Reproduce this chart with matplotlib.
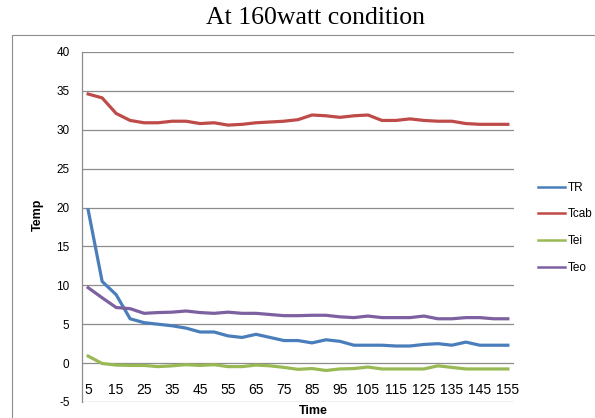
import matplotlib
matplotlib.use("Agg")
import matplotlib.pyplot as plt
from matplotlib.patches import Rectangle
from matplotlib.lines import Line2D

# data
time = list(range(5, 160, 5))
tr = [19.7, 10.5, 8.8, 5.7, 5.2, 5.0, 4.8, 4.5, 4.0, 4.0, 3.5, 3.3, 3.7, 3.3, 2.9, 2.9,
      2.6, 3.0, 2.8, 2.3, 2.3, 2.3, 2.2, 2.2, 2.4, 2.5, 2.3, 2.7, 2.3, 2.3, 2.3]
tcab = [34.6, 34.1, 32.1, 31.2, 30.9, 30.9, 31.1, 31.1, 30.8, 30.9, 30.6, 30.7, 30.9, 31.0,
        31.1, 31.3, 31.9, 31.8, 31.6, 31.8, 31.9, 31.2, 31.2, 31.4, 31.2, 31.1, 31.1, 30.8,
        30.7, 30.7, 30.7]
tei = [0.9, -0.05, -0.25, -0.3, -0.3, -0.45, -0.35, -0.2, -0.3, -0.2, -0.45, -0.45, -0.25,
       -0.35, -0.55, -0.8, -0.7, -0.95, -0.75, -0.7, -0.5, -0.75, -0.75, -0.75, -0.75, -0.35,
       -0.55, -0.75, -0.75, -0.75, -0.75]
teo = [9.7, 8.4, 7.15, 7.0, 6.4, 6.5, 6.55, 6.7, 6.5, 6.4, 6.55, 6.4, 6.4, 6.25, 6.1, 6.1,
       6.15, 6.15, 5.95, 5.85, 6.05, 5.85, 5.85, 5.85, 6.05, 5.7, 5.7, 5.85, 5.85, 5.7, 5.7]

series = ["TR", "Tcab", "Tei", "Teo"]
colors = ["#4A7EBB", "#BE4B48", "#98B954", "#7D60A0"]
xticks = list(range(5, 160, 10))
yticks = list(range(-5, 45, 5))

fig = plt.figure(figsize=(5.95, 4.18), dpi=100)
plt.rcParams["font.family"] = "Liberation Sans"

# outer chart frame
fig.patches.append(Rectangle((12 / 595, -0.1), 1.0, 0.917 + 0.1, transform=fig.transFigure,
                             fill=False, edgecolor="#8c8c8c", linewidth=0.8))

ax = fig.add_axes([82 / 595, 16 / 418, 432 / 595, 350 / 418])
for name, vals, c in zip(series, [tr, tcab, tei, teo], colors):
    ax.plot(time, vals, color=c, linewidth=2.3, label=name)

ax.set_xlim(5 - 2.2, 155 + 2.2)
ax.set_ylim(-5, 40)
ax.set_yticks(yticks)
ax.set_yticklabels([str(v) for v in yticks], fontsize=8.5)
ax.set_xticks(xticks)
ax.set_xticklabels([str(v) for v in xticks], fontsize=8.5)
ax.tick_params(axis="y", length=0, pad=9)
ax.tick_params(axis="x", length=0, pad=14)
ax.grid(axis="y", color="#8c8c8c", linewidth=0.9)
ax.set_axisbelow(True)

ax.spines["bottom"].set_position(("data", 0))
ax.spines["bottom"].set_visible(False)
ax.spines["top"].set_visible(False)
ax.spines["right"].set_visible(False)
ax.spines["left"].set_color("#8c8c8c")
ax.spines["left"].set_linewidth(0.9)

fig.text(313 / 595, 1 - 411 / 418, "Time", ha="center", va="center",
         fontsize=9, fontweight="bold")
fig.text(38 / 595, 1 - 215 / 418, "Temp", ha="center", va="center", rotation=90,
         fontsize=9, fontweight="bold")
fig.text(315 / 595, 1 - 18 / 418, "At 160watt condition", ha="center", va="center",
         fontsize=18.5, family="Liberation Serif")

handles = [Line2D([], [], color=c, linewidth=1.8) for c in colors]
ax.legend(handles, series, loc="upper left", bbox_to_anchor=(533 / 595, 1 - 177 / 418),
          bbox_transform=fig.transFigure, frameon=False, fontsize=8.5,
          handlelength=2.3, handletextpad=0.25, labelspacing=1.25, borderaxespad=0)

fig.savefig("out.png", dpi=100)
